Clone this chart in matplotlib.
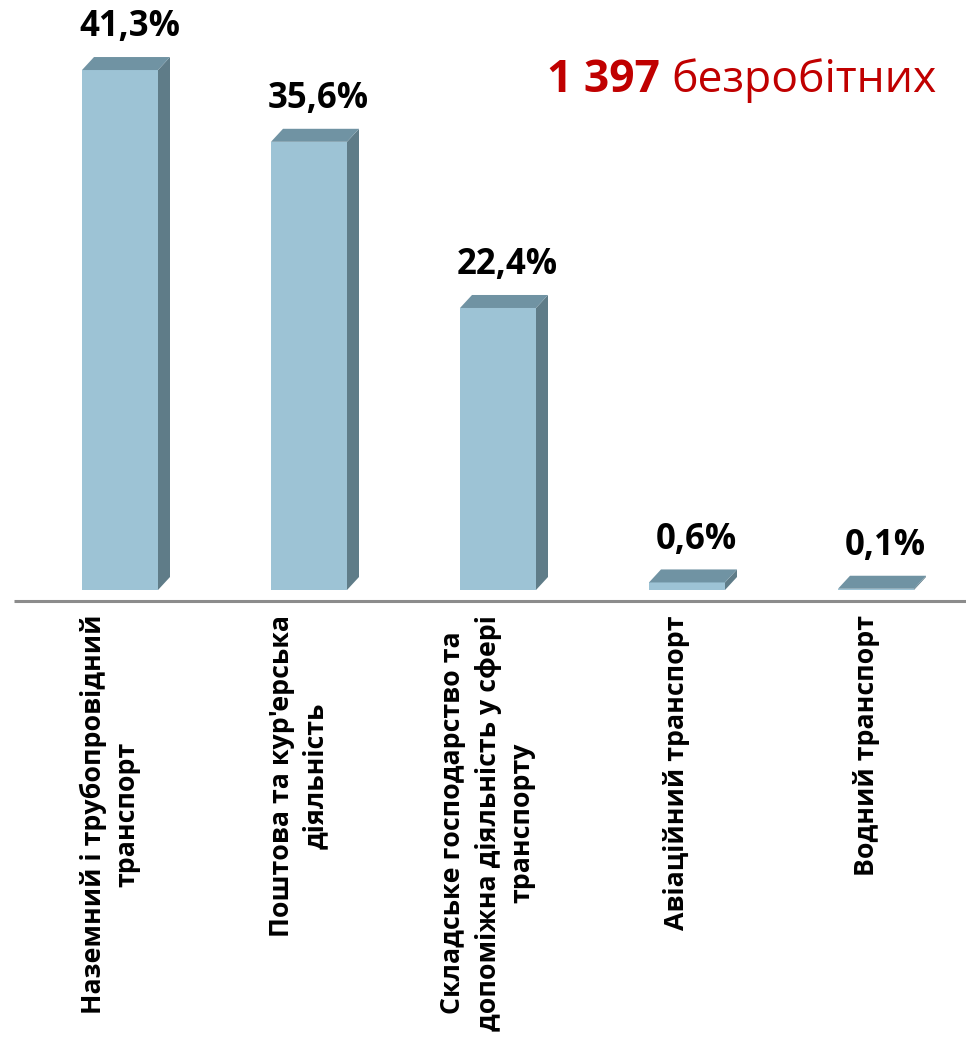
import matplotlib
matplotlib.use("Agg")
import matplotlib.pyplot as plt
from matplotlib.patches import Polygon

plt.rcParams['font.family'] = ['Open Sans', 'DejaVu Sans']

# ── Data ────────────────────────────────────────────────────────────────
categories = [
    "Наземний і трубопровідний\nтранспорт",
    "Поштова та кур'ерська\nдіяльність",
    "Складське господарство та\nдопоміжна діяльність у сфері\nтранспорту",
    "Авіаційний транспорт",
    "Водний транспорт",
]
values = [41.3, 35.6, 22.4, 0.6, 0.1]
value_labels = ["41,3%", "35,6%", "22,4%", "0,6%", "0,1%"]
total_count = "1 397"
total_word = "безробітних"

# ── Geometry (pixel based) ──────────────────────────────────────────────
W, H = 966, 1040
STEP = 189.0          # px between bar centres
X0 = 120.0            # px of first bar centre
Y0 = 590.0            # px of bar base
PPU = 12.59           # px per percent
front_c = "#9DC3D5"
side_c = "#5F7C88"
top_c = "#7093A3"

fig = plt.figure(figsize=(W / 100, H / 100), dpi=100, facecolor="white")
ax = fig.add_axes([0, 0, 1, 1])
ax.set_xlim(-X0 / STEP, (W - X0) / STEP)
ax.set_ylim(-(H - Y0) / PPU, Y0 / PPU)
ax.axis("off")

bw = 76 / STEP
dx = 12 / STEP
dy = 13 / PPU

for i, v in enumerate(values):
    l, r = i - bw / 2, i + bw / 2
    ax.add_patch(Polygon([(l, 0), (r, 0), (r, v), (l, v)], closed=True,
                         facecolor=front_c, edgecolor="none"))
    ax.add_patch(Polygon([(r, 0), (r + dx, dy), (r + dx, v + dy), (r, v)],
                         closed=True, facecolor=side_c, edgecolor="none"))
    ax.add_patch(Polygon([(l, v), (r, v), (r + dx, v + dy), (l + dx, v + dy)],
                         closed=True, facecolor=top_c, edgecolor="none"))
    ax.annotate(value_labels[i], xy=(i + 0.05, v + dy), xytext=(0, 15),
                textcoords="offset points", ha="center", va="baseline",
                fontsize=25, fontweight="bold", color="black")
    ax.text(i - 10 / STEP, -25 / PPU, categories[i], rotation=90,
            ha="center", va="top", multialignment="center",
            fontsize=19.3, fontweight="bold", color="black", linespacing=1.4)

# baseline
ax.plot([(14 - X0) / STEP, (W - X0) / STEP], [-11 / PPU, -11 / PPU],
        color="#8C8C8C", linewidth=2.2, solid_capstyle="butt")

# headline: bold count + regular word, right aligned
fig.canvas.draw()
word = fig.text(937 / W, 1 - 92 / H, total_word, ha="right", va="baseline",
                fontsize=32, color="#C00000")
fig.canvas.draw()
bb = word.get_window_extent()
fig.text((bb.x0 - 12) / W, 1 - 92 / H, total_count, ha="right", va="baseline",
         fontsize=32, fontweight="bold", color="#C00000")

fig.savefig("out.png", dpi=100, facecolor="white")
